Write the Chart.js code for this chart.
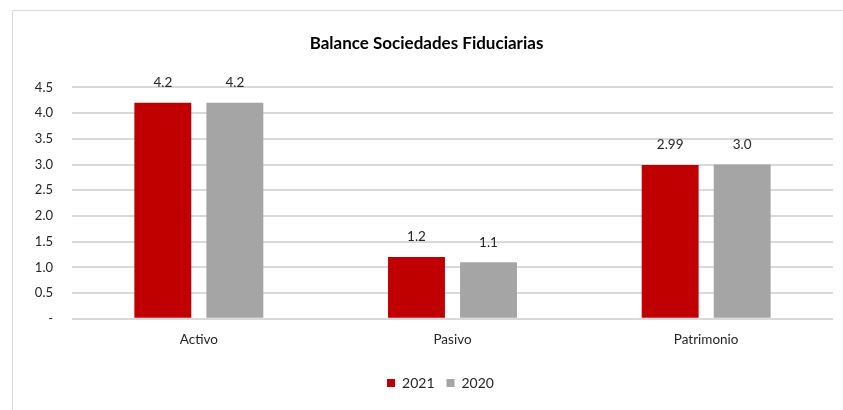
<!DOCTYPE html>
<html>
<head>
<meta charset="utf-8">
<script src="https://cdn.jsdelivr.net/npm/chart.js@4.4.1/dist/chart.umd.min.js"></script>
<style>
  html, body { margin: 0; padding: 0; background: #fff; }
  #wrap { position: relative; width: 843px; height: 410px; }
</style>
</head>
<body>
<div id="wrap"><canvas id="c" width="843" height="410"></canvas></div>
<script>
// Balance de sociedades fiduciarias, billones de pesos
const categories = ['Activo', 'Pasivo', 'Patrimonio'];
const values2021 = [4.2, 1.2, 2.99];
const values2020 = [4.2, 1.1, 3.0];
const labels2021 = ['4.2', '1.2', '2.99'];
const labels2020 = ['4.2', '1.1', '3.0'];
const yTicks = [0, 0.5, 1.0, 1.5, 2.0, 2.5, 3.0, 3.5, 4.0, 4.5];

const FONT = 'Lato, "Liberation Sans", sans-serif';

// Thin frame around the chart, cut by the right and bottom edges
const framePlugin = {
  id: 'frame',
  beforeDraw(chart) {
    const ctx = chart.ctx;
    ctx.save();
    ctx.strokeStyle = '#d9d9d9';
    ctx.lineWidth = 1;
    ctx.beginPath();
    ctx.moveTo(12.5, chart.height + 2);
    ctx.lineTo(12.5, 10.5);
    ctx.lineTo(chart.width + 2, 10.5);
    ctx.stroke();
    ctx.restore();
  }
};

// Nudge the legend a little to the right of the canvas centre
const legendShift = {
  id: 'legendShift',
  afterLayout(chart) {
    if (chart.legend) {
      chart.legend.left += 14;
      chart.legend.right += 14;
    }
  }
};

// Value labels above each bar
const valueLabels = {
  id: 'valueLabels',
  afterDatasetsDraw(chart) {
    const ctx = chart.ctx;
    ctx.save();
    ctx.font = '13.5px ' + FONT;
    ctx.fillStyle = '#262626';
    ctx.textAlign = 'center';
    ctx.textBaseline = 'middle';
    chart.data.datasets.forEach((ds, i) => {
      const meta = chart.getDatasetMeta(i);
      meta.data.forEach((bar, j) => {
        ctx.fillText(ds.valueText[j], bar.x, bar.y - 20);
      });
    });
    ctx.restore();
  }
};

new Chart(document.getElementById('c'), {
  type: 'bar',
  data: {
    labels: categories,
    datasets: [
      { label: '2021', data: values2021, valueText: labels2021, backgroundColor: '#c00000' },
      { label: '2020', data: values2020, valueText: labels2020, backgroundColor: '#a5a5a5' }
    ]
  },
  options: {
    responsive: false,
    animation: false,
    events: [],
    layout: { padding: { left: 20, right: 10, top: 0, bottom: 10 } },
    datasets: {
      bar: { categoryPercentage: 0.568, barPercentage: 0.79 }
    },
    scales: {
      x: {
        grid: { display: false, drawTicks: false },
        border: { display: false },
        afterFit(scale) { scale.height += 3; },
        ticks: { color: '#262626', font: { family: FONT, size: 13.5 }, padding: 13 }
      },
      y: {
        min: 0,
        max: 4.5,
        afterBuildTicks(scale) { scale.ticks = yTicks.map(v => ({ value: v })); },
        afterFit(scale) { scale.width = 52; },
        grid: { color: '#d9d9d9', lineWidth: 2, drawTicks: false },
        border: { display: false },
        ticks: {
          color: '#262626',
          font: { family: FONT, size: 13 },
          padding: 19,
          callback: v => v === 0 ? '-' : v.toFixed(1)
        }
      }
    },
    plugins: {
      title: {
        display: true,
        text: 'Balance Sociedades Fiduciarias',
        color: '#000',
        font: { family: FONT, size: 17, weight: 'bold' },
        padding: { top: 33, bottom: 34 }
      },
      legend: {
        position: 'bottom',
        labels: {
          color: '#262626',
          font: { family: FONT, size: 14 },
          boxWidth: 8,
          boxHeight: 8,
          padding: 12
        }
      },
      tooltip: { enabled: false }
    }
  },
  plugins: [framePlugin, legendShift, valueLabels]
});
</script>
</body>
</html>
